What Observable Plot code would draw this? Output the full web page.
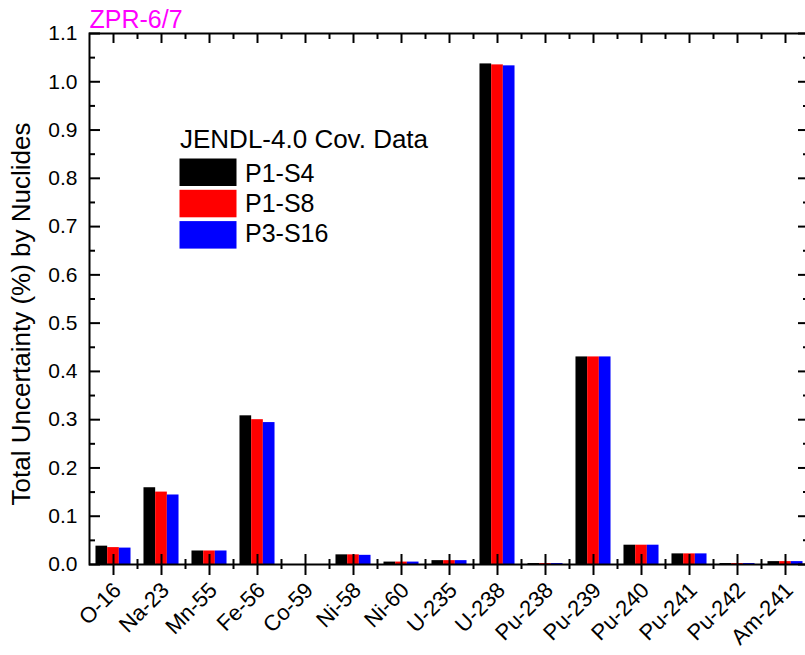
<!DOCTYPE html>
<html>
<head>
<meta charset="utf-8">
<script src="https://cdn.jsdelivr.net/npm/d3@7"></script>
<script src="https://cdn.jsdelivr.net/npm/@observablehq/plot@0.6"></script>
<style>
  body { margin: 0; background: #fff; }
  #chart { position: relative; width: 805px; height: 655px; overflow: hidden; font-family: "Liberation Sans", Arial, sans-serif; }
  #chart svg.overlay { position: absolute; left: 0; top: 0; pointer-events: none; }
</style>
</head>
<body>
<div id="chart"></div>
<script>
// Total uncertainty (%) contributed by each nuclide, ZPR-6/7, JENDL-4.0 covariances
const nuclides = ["O-16", "Na-23", "Mn-55", "Fe-56", "Co-59", "Ni-58", "Ni-60", "U-235",
                  "U-238", "Pu-238", "Pu-239", "Pu-240", "Pu-241", "Pu-242", "Am-241"];
const p1s4  = [0.038, 0.159, 0.028, 0.308, 0.0, 0.020, 0.005, 0.008, 1.037, 0.002, 0.430, 0.040, 0.022, 0.002, 0.006];
const p1s8  = [0.035, 0.150, 0.028, 0.300, 0.0, 0.020, 0.005, 0.008, 1.035, 0.002, 0.430, 0.040, 0.022, 0.002, 0.006];
const p3s16 = [0.034, 0.144, 0.028, 0.294, 0.0, 0.019, 0.005, 0.008, 1.033, 0.002, 0.430, 0.040, 0.022, 0.002, 0.006];

const seriesNames  = ["P1-S4", "P1-S8", "P3-S16"];
const seriesColors = ["#000000", "#ff0000", "#0000ff"];
const yTicks      = [0.0, 0.1, 0.2, 0.3, 0.4, 0.5, 0.6, 0.7, 0.8, 0.9, 1.0, 1.1];
const yMinorTicks = [0.05, 0.15, 0.25, 0.35, 0.45, 0.55, 0.65, 0.75, 0.85, 0.95, 1.05];

const chartTitle  = "ZPR-6/7";
const legendTitle = "JENDL-4.0 Cov. Data";
const yTitle      = "Total Uncertainty (%) by Nuclides";

// category index positions; minor ticks sit on the boundaries between categories
const idx = nuclides.map((_, i) => i);
const bounds = idx.slice(1).map(i => i - 0.5);

const series = [p1s4, p1s8, p3s16];
const groupWidth = 0.73;
const barWidth = groupWidth / series.length;

const barMarks = series.map((vals, k) =>
  Plot.rect(idx, {
    x1: i => i - groupWidth / 2 + k * barWidth,
    x2: i => i - groupWidth / 2 + (k + 1) * barWidth,
    y1: 0,
    y2: i => vals[i],
    fill: seriesColors[k]
  })
);

const tick = {stroke: "black", strokeWidth: 2};
const xMin = -0.5, xMax = nuclides.length - 0.5, yMax = 1.1;

const plot = Plot.plot({
  width: 805,
  height: 655,
  marginLeft: 89,
  marginRight: -4,
  marginTop: 33,
  marginBottom: 91,
  style: {fontFamily: "'Liberation Sans', Arial, sans-serif", color: "black", background: "white"},
  x: {type: "linear", domain: [xMin, xMax], axis: null},
  y: {domain: [0, yMax], axis: null},
  marks: [
    ...barMarks,
    Plot.frame({stroke: "black", strokeWidth: 2}),
    // left / right axis ticks (pointing inward)
    Plot.ruleY(yTicks, {y: d => d, x1: xMin, x2: xMin, insetRight: -11, ...tick}),
    Plot.ruleY(yMinorTicks, {y: d => d, x1: xMin, x2: xMin, insetRight: -6, ...tick}),
    Plot.ruleY(yTicks, {y: d => d, x1: xMax, x2: xMax, insetLeft: -11, ...tick}),
    Plot.ruleY(yMinorTicks, {y: d => d, x1: xMax, x2: xMax, insetLeft: -6, ...tick}),
    // top axis ticks (pointing inward)
    Plot.ruleX(idx, {x: d => d, y1: yMax, y2: yMax, insetBottom: -10, ...tick}),
    Plot.ruleX(bounds, {x: d => d, y1: yMax, y2: yMax, insetBottom: -6, ...tick}),
    // bottom axis ticks (crossing the axis)
    Plot.ruleX(idx, {x: d => d, y1: 0, y2: 0, insetTop: -10, insetBottom: -11, ...tick}),
    Plot.ruleX(bounds, {x: d => d, y1: 0, y2: 0, insetTop: -5, insetBottom: -5, ...tick}),
    // y tick labels
    Plot.text(yTicks, {x: xMin, y: d => d, text: d => d3.format(".1f")(d), textAnchor: "end", dx: -12, fontSize: 21}),
    // x tick labels, slanted
    Plot.text(idx, {x: d => d, y: 0, text: i => nuclides[i], rotate: -45, textAnchor: "end", lineAnchor: "middle", dx: 4, dy: 22, fontSize: 22}),
    Plot.text([yTitle], {text: d => d, frameAnchor: "left", textAnchor: "middle", rotate: -90, lineAnchor: "bottom", dx: -60, dy: 15, fontSize: 26}),
    Plot.text([chartTitle], {text: d => d, frameAnchor: "top-left", textAnchor: "start", lineAnchor: "bottom", dy: -6, fontSize: 25, fill: "#ff00ff"})
  ]
});

const chart = document.getElementById("chart");
chart.appendChild(plot);

// legend overlay
const legend = d3.select(chart).append("svg")
  .attr("class", "overlay")
  .attr("width", 805).attr("height", 655)
  .style("font-family", "'Liberation Sans', Arial, sans-serif");
legend.append("text").attr("x", 180).attr("y", 148).attr("font-size", 26).text(legendTitle);
seriesNames.forEach((name, k) => {
  legend.append("rect")
    .attr("x", 179.5).attr("y", 158.5 + k * 31.3)
    .attr("width", 57).attr("height", 27.5)
    .attr("fill", seriesColors[k]);
  legend.append("text")
    .attr("x", 245).attr("y", 181.7 + k * 30)
    .attr("font-size", 25).text(name);
});
</script>
</body>
</html>
